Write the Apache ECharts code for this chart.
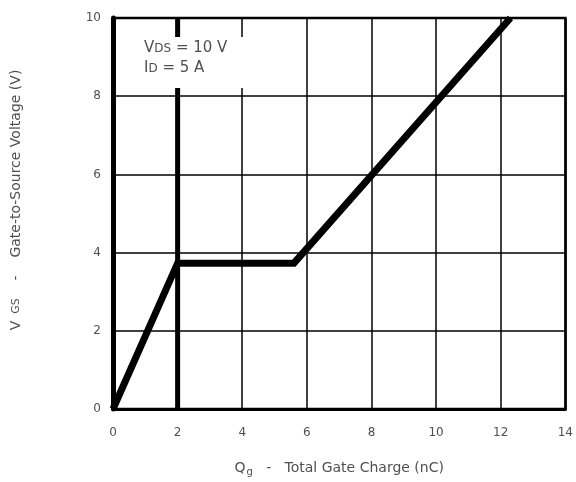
<!DOCTYPE html>
<html><head><meta charset="utf-8">
<script src="https://cdn.jsdelivr.net/npm/echarts@6/dist/echarts.min.js"></script>
<style>html,body{margin:0;padding:0;background:#fff}#c{width:576px;height:482px}</style>
</head><body><div id="c"></div>
<script>
const xTicks = [0, 2, 4, 6, 8, 10, 12, 14];
const yTicks = [0, 2, 4, 6, 8, 10];
const gateChargeQ = [0, 2, 5.6, 12.3];
const gateVoltage = [0, 3.73, 3.73, 10];
const markerLineQ = [2, 2];
const markerLineV = [0, 10];

const chart = echarts.init(document.getElementById('c'));
const font = 'DejaVu Sans, sans-serif';
const tc = '#505050';
chart.setOption({
  animation: false,
  grid: {left: 113, right: 8, top: 18, bottom: 70, show: true, borderColor: '#000', borderWidth: 2.5},
  xAxis: {
    type: 'value', min: xTicks[0], max: xTicks[xTicks.length - 1], interval: 2,
    axisLine: {show: true, lineStyle: {color: '#000', width: 3}},
    axisTick: {show: false},
    axisLabel: {color: tc, fontFamily: font, fontSize: 12, margin: 18},
    splitLine: {show: true, lineStyle: {color: '#000', width: 1.5}},
    name: '{b|Q}{s|g}{b|   -   Total Gate Charge (nC)}',
    nameLocation: 'middle', nameGap: 51,
    nameTextStyle: {rich: {b: {fontSize: 14, color: tc, fontFamily: font}, s: {fontSize: 10, color: tc, fontFamily: font, verticalAlign: 'bottom', padding: [7, 0, 0, 1]}}}
  },
  yAxis: {
    type: 'value', min: yTicks[0], max: yTicks[yTicks.length - 1], interval: 2,
    axisLine: {show: true, lineStyle: {color: '#000', width: 5}},
    axisTick: {show: false},
    axisLabel: {color: tc, fontFamily: font, fontSize: 12, margin: 12},
    splitLine: {show: true, lineStyle: {color: '#000', width: 1.5}}
  },
  graphic: [
    {type: 'rect', z: 50, shape: {x: 124, y: 37, width: 125, height: 51}, style: {fill: '#fff'}},
    {type: 'text', z: 51, left: 144, top: 41, style: {
      text: '{b|V}{s|DS}{b| = 10 V}\n{b|I}{s|D}{b| = 5 A}',
      rich: {b: {fontSize: 15, fill: tc, fontFamily: font, lineHeight: 20}, s: {fontSize: 12, fill: tc, fontFamily: font, lineHeight: 20}}
    }},
    {type: 'text', z: 51, x: 16, y: 200, rotation: Math.PI / 2, style: {
      text: '{b|V}{s|  GS}{b|    -    Gate-to-Source Voltage (V)}',
      align: 'center', verticalAlign: 'middle',
      rich: {b: {fontSize: 14, fill: tc, fontFamily: font}, s: {fontSize: 11, fill: tc, fontFamily: font}}
    }}
  ],
  series: [
    {type: 'line', z: 10, data: markerLineQ.map((q, i) => [q, markerLineV[i]]), symbol: 'none',
     lineStyle: {color: '#000', width: 5}},
    {type: 'line', z: 20, data: gateChargeQ.map((q, i) => [q, gateVoltage[i]]), symbol: 'none',
     lineStyle: {color: '#000', width: 7, join: 'miter', cap: 'butt'}}
  ]
});
</script></body></html>
